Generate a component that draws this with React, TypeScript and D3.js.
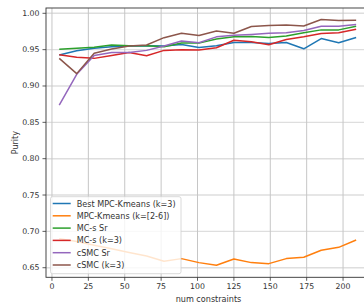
import * as d3 from "d3";
import { useEffect, useRef } from "react";

const numConstraints = [5, 17, 29, 41, 53, 65, 77, 89, 101, 113, 125, 137, 149, 161, 173, 185, 197, 209];

const bestMpcKmeans = [0.9425, 0.9485, 0.9518, 0.954, 0.955, 0.9555, 0.955, 0.957, 0.953, 0.9555, 0.9598, 0.9598, 0.9585, 0.9598, 0.9512, 0.9653, 0.9596, 0.9668];
const mpcKmeansRange = [0.69, 0.686, 0.681, 0.676, 0.671, 0.666, 0.659, 0.6625, 0.657, 0.6533, 0.662, 0.657, 0.6556, 0.6625, 0.6643, 0.674, 0.678, 0.6882];
const mcsSr = [0.9505, 0.9518, 0.9532, 0.9564, 0.9555, 0.9555, 0.9541, 0.959, 0.959, 0.9647, 0.9676, 0.968, 0.9668, 0.9688, 0.9733, 0.9772, 0.9772, 0.9823];
const mcsK3 = [0.943, 0.9394, 0.938, 0.942, 0.946, 0.9416, 0.949, 0.95, 0.9494, 0.9527, 0.963, 0.9608, 0.9567, 0.9639, 0.9677, 0.9723, 0.9732, 0.978];
const csmcSr = [0.8737, 0.916, 0.942, 0.946, 0.946, 0.949, 0.955, 0.962, 0.9595, 0.9676, 0.9697, 0.971, 0.9727, 0.9733, 0.9763, 0.9821, 0.9823, 0.9847];
const csmcK3 = [0.938, 0.917, 0.945, 0.951, 0.955, 0.9564, 0.9665, 0.9727, 0.9695, 0.9757, 0.9725, 0.9818, 0.9833, 0.9839, 0.9825, 0.9915, 0.9902, 0.9904];

const seriesNames = ["Best MPC-Kmeans (k=3)", "MPC-Kmeans (k=[2-6])", "MC-s Sr", "MC-s (k=3)", "cSMC Sr", "cSMC (k=3)"];
const seriesValues = [bestMpcKmeans, mpcKmeansRange, mcsSr, mcsK3, csmcSr, csmcK3];
const colors = ["#1f77b4", "#ff7f0e", "#2ca02c", "#d62728", "#9467bd", "#8c564b"];

const xTicks = [0, 25, 50, 75, 100, 125, 150, 175, 200];
const yTicks = [0.65, 0.7, 0.75, 0.8, 0.85, 0.9, 0.95, 1.0];

const FONT = "DejaVu Sans";

export default function App() {
  const ref = useRef<SVGSVGElement>(null);

  useEffect(() => {
    if (!ref.current) return;
    const svg = d3.select(ref.current);
    svg.selectAll("*").remove();

    const left = 46, right = 371, top = 8, bottom = 277.3;
    const x = d3.scaleLinear().domain([-4.1, 219.2]).range([left, right]);
    const y = d3.scaleLinear().domain([0.6368, 1.0073]).range([bottom, top]);

    // grid
    svg
      .append("g")
      .selectAll("line")
      .data(yTicks)
      .enter()
      .append("line")
      .attr("x1", left)
      .attr("x2", right)
      .attr("y1", (d) => y(d))
      .attr("y2", (d) => y(d))
      .attr("stroke", "#dedede")
      .attr("stroke-width", 1.4);
    svg
      .append("g")
      .selectAll("line")
      .data(xTicks)
      .enter()
      .append("line")
      .attr("x1", (d) => x(d))
      .attr("x2", (d) => x(d))
      .attr("y1", top)
      .attr("y2", bottom)
      .attr("stroke", "#c6c6c6")
      .attr("stroke-width", 1);

    // lines
    const line = d3
      .line<number>()
      .x((_, i) => x(numConstraints[i]))
      .y((d) => y(d));
    seriesValues.forEach((vals, i) => {
      svg
        .append("path")
        .attr("d", line(vals)!)
        .attr("fill", "none")
        .attr("stroke", colors[i])
        .attr("stroke-width", 1.5)
        .attr("stroke-linejoin", "round");
    });

    // frame
    svg
      .append("rect")
      .attr("x", left)
      .attr("y", top)
      .attr("width", right - left)
      .attr("height", bottom - top)
      .attr("fill", "none")
      .attr("stroke", "#333")
      .attr("stroke-width", 0.9);

    // y axis
    const yAxis = svg.append("g").attr("font-family", FONT).attr("font-size", 7.8).attr("fill", "#333");
    yTicks.forEach((t) => {
      yAxis.append("line").attr("x1", left - 3.5).attr("x2", left).attr("y1", y(t)).attr("y2", y(t)).attr("stroke", "#333").attr("stroke-width", 0.8);
      yAxis
        .append("text")
        .attr("x", left - 6.5)
        .attr("y", y(t))
        .attr("text-anchor", "end")
        .attr("dominant-baseline", "central")
        .text(d3.format(".2f")(t));
    });

    // x axis
    const xAxis = svg.append("g").attr("font-family", FONT).attr("font-size", 7.8).attr("fill", "#333");
    xTicks.forEach((t) => {
      xAxis.append("line").attr("x1", x(t)).attr("x2", x(t)).attr("y1", bottom).attr("y2", bottom + 3.5).attr("stroke", "#333").attr("stroke-width", 0.8);
      xAxis
        .append("text")
        .attr("x", x(t))
        .attr("y", 286.7)
        .attr("text-anchor", "middle")
        .attr("dominant-baseline", "central")
        .text(String(t));
    });

    svg
      .append("text")
      .attr("x", (left + right) / 2)
      .attr("y", 299)
      .attr("text-anchor", "middle")
      .attr("dominant-baseline", "central")
      .attr("font-family", FONT)
      .attr("font-size", 8.1)
      .attr("fill", "#333")
      .text("num constraints");

    svg
      .append("text")
      .attr("transform", `translate(15,${(top + bottom) / 2}) rotate(-90)`)
      .attr("text-anchor", "middle")
      .attr("dominant-baseline", "central")
      .attr("font-family", FONT)
      .attr("font-size", 8.1)
      .attr("fill", "#333")
      .text("Purity");

    // legend
    const legend = svg.append("g");
    legend
      .append("rect")
      .attr("x", 50.5)
      .attr("y", 196.7)
      .attr("width", 130.5)
      .attr("height", 77)
      .attr("rx", 2)
      .attr("fill", "white")
      .attr("fill-opacity", 0.8)
      .attr("stroke", "#d0d0d0")
      .attr("stroke-width", 0.8);
    seriesNames.forEach((name, i) => {
      const cy = 203.5 + i * 12.3;
      legend.append("line").attr("x1", 52.7).attr("x2", 70.7).attr("y1", cy).attr("y2", cy).attr("stroke", colors[i]).attr("stroke-width", 1.5);
      legend
        .append("text")
        .attr("x", 76.7)
        .attr("y", cy)
        .attr("dominant-baseline", "central")
        .attr("font-family", FONT)
        .attr("font-size", 8.1)
        .attr("fill", "#333")
        .text(name);
    });
  }, []);

  return (
    <div style={{ position: "absolute", left: 0, top: 0 }}>
      <svg ref={ref} width={364} height={304} style={{ display: "block", background: "white" }}></svg>
    </div>
  );
}
